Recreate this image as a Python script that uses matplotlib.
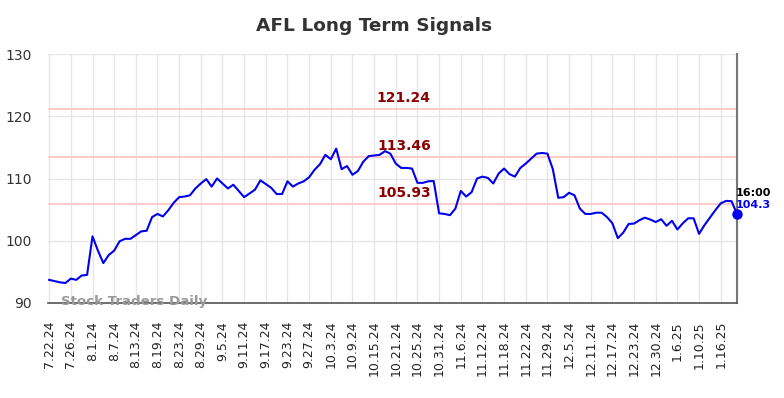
import numpy as np
import matplotlib.pyplot as plt

# closing prices, one per trading day
prices = [
    93.7, 93.5, 93.3, 93.2, 93.9, 93.7, 94.4, 94.5, 100.7, 98.4,
    96.4, 97.7, 98.4, 99.9, 100.3, 100.3, 100.9, 101.5, 101.6, 103.8,
    104.3, 103.9, 104.9, 106.1, 107.0, 107.1, 107.3, 108.4, 109.2, 109.9,
    108.7, 110.0, 109.2, 108.4, 109.0, 108.0, 107.0, 107.6, 108.2, 109.7,
    109.1, 108.5, 107.5, 107.5, 109.55, 108.7, 109.2, 109.55, 110.2, 111.4,
    112.3, 113.8, 113.1, 114.8, 111.5, 112.0, 110.6, 111.2, 112.7, 113.6,
    113.7, 113.8, 114.4, 114.0, 112.4, 111.7, 111.7, 111.6, 109.3, 109.3,
    109.55, 109.6, 104.4, 104.3, 104.1, 105.15, 108.0, 107.1, 107.8, 110.0,
    110.3, 110.1, 109.2, 110.8, 111.6, 110.7, 110.3, 111.7, 112.4, 113.2,
    114.0, 114.1, 114.0, 111.5, 106.9, 107.0, 107.7, 107.3, 105.15, 104.3,
    104.3, 104.5, 104.5, 103.8, 102.8, 100.4, 101.3, 102.7, 102.75, 103.3,
    103.7, 103.4, 103.0, 103.45, 102.4, 103.2, 101.8, 102.8, 103.6, 103.6,
    101.1, 102.5, 103.7, 104.9, 106.0, 106.4, 106.35, 104.3,
]

tick_labels = [
    "7.22.24", "7.26.24", "8.1.24", "8.7.24", "8.13.24", "8.19.24", "8.23.24",
    "8.29.24", "9.5.24", "9.11.24", "9.17.24", "9.23.24", "9.27.24", "10.3.24",
    "10.9.24", "10.15.24", "10.21.24", "10.25.24", "10.31.24", "11.6.24",
    "11.12.24", "11.18.24", "11.22.24", "11.29.24", "12.5.24", "12.11.24",
    "12.17.24", "12.23.24", "12.30.24", "1.6.25", "1.10.25", "1.16.25",
]

signals = [121.24, 113.46, 105.93]
last_time = "16:00"

x = np.arange(len(prices))

fig = plt.figure(figsize=(7.84, 3.98), dpi=100)
ax = fig.add_axes([0.061, 0.239, 0.879, 0.625])

ax.grid(True, color="#e6e6e6", linewidth=1)
ax.set_axisbelow(True)

for s in signals:
    ax.axhline(s, color="#ffcccc", linewidth=1.5, zorder=1)
    ax.text(65.5, s + 0.6, f"{s:.2f}", color="#8b0000", fontsize=10,
            fontweight="bold", ha="center", va="bottom")

ax.plot(x, prices, color="#0000ee", linewidth=1.5, zorder=3)
ax.plot(x[-1], prices[-1], "o", color="#0000ee", markersize=6.5, zorder=4,
        clip_on=False)

ax.text(x[-1] - 0.2, prices[-1] + 2.6, last_time, fontsize=8,
        fontweight="bold", color="black", ha="left", va="bottom")
ax.text(x[-1] - 0.2, prices[-1] + 0.6, f"{prices[-1]:.1f}", fontsize=8,
        fontweight="bold", color="#0000ee", ha="left", va="bottom")

ax.text(2.2, 90.2, "Stock Traders Daily", fontsize=9.6, fontweight="bold",
        color="#999999", ha="left", va="center", zorder=5)

ax.set_xlim(-0.25, len(prices) - 1)
ax.set_ylim(90, 130)
ax.set_yticks([90, 100, 110, 120, 130])
ax.set_xticks(x[::4])
ax.set_xticklabels(tick_labels, rotation=90, fontsize=9, color="#222222")
ax.tick_params(axis="y", labelsize=10, colors="#333333", length=0, pad=11.5)
ax.tick_params(axis="x", length=0, pad=13)

for side in ["top", "left"]:
    ax.spines[side].set_visible(False)
ax.spines["bottom"].set_color("#555555")
ax.spines["bottom"].set_linewidth(1.2)
ax.spines["right"].set_color("#777777")
ax.spines["right"].set_linewidth(1.5)

fig.text(0.477, 0.935, "AFL Long Term Signals", fontsize=13.3,
         fontweight="bold", color="#333333", ha="center", va="center")

fig.savefig("out.png", dpi=100)
